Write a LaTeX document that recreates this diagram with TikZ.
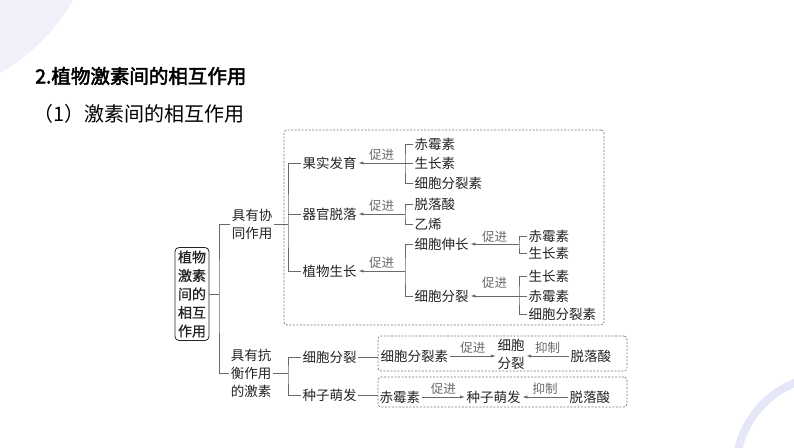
\documentclass[tikz,border=0pt]{standalone}
\usepackage{fontspec}
\setmainfont{Noto Sans CJK SC}
\newfontfamily\headfont[FakeBold=2.5]{Noto Sans CJK SC}
\newfontfamily\rootfont[FakeBold=0.8]{Noto Sans CJK SC}
\usetikzlibrary{arrows.meta}
\definecolor{haze}{RGB}{240,240,251}
\definecolor{ringblue}{RGB}{229,230,248}
\definecolor{wire}{RGB}{105,105,105}
\definecolor{ink}{RGB}{35,35,35}
\definecolor{dashgray}{RGB}{120,120,120}

\tikzset{
  txt/.style={inner sep=1.5pt, text=ink, font=\fontsize{13.5}{18}\selectfont},
  item/.style={txt, anchor=west},
  lbl/.style={inner sep=0pt, text=wire, font=\fontsize{12.5}{14}\selectfont},
  brk/.style={draw=wire, line width=0.7pt},
  arr/.style={brk, -{Latex[length=5pt,width=3.2pt]}},
  dbox/.style={draw=dashgray, dash pattern=on 2pt off 1.5pt, rounded corners=3pt, line width=0.7pt, inner sep=0pt},
  rootbox/.style={draw=ink, rounded corners=4pt, line width=0.8pt, inner sep=3pt, align=center, text=ink, font=\rootfont\fontsize{14}{18.5}\selectfont},
}

\begin{document}
\begin{tikzpicture}[x=1pt,y=-1pt]
  % Frame & background decoration
  \useasboundingbox (0,0) rectangle (794,447);
  \fill[haze] (-100,-100) circle (200);
  \draw[ringblue, line width=8pt] (830,470) circle (94);
  % Headings
  \node[anchor=west, inner sep=0pt, text=black, font=\headfont\fontsize{19.5}{22}\selectfont] (title) at (35,76) {2.植物激素间的相互作用};
  \node[anchor=west, inner sep=0pt, text=black, font=\fontsize{20}{22}\selectfont] (sub) at (33,114) {（1）激素间的相互作用};
  % Dashed frames
  \node[dbox, minimum width=320, minimum height=195] (synbox) at (444,227.5) {};
  \node[dbox, minimum width=249, minimum height=35] (cdbox) at (502.5,353.5) {};
  \node[dbox, minimum width=249, minimum height=30] (sgbox) at (502.5,392) {};
  % Root
  \node[rootbox] (root) at (192,294) {植物\\激素\\间的\\相互\\作用};
  \coordinate (trunk) at (219,294);
  \node[txt, align=center] (syn) at (252,224) {具有协\\同作用};
  \node[txt, align=center] (anti) at (251,373) {具有抗\\衡作用\\的激素};
  \draw[brk] (root.east) -- (trunk);
  \draw[brk] (syn.west) -| (trunk) |- (anti.west);
  % Synergy branch
  \coordinate (sb) at (288,224);
  \node[item] (fruit) at (301,163) {果实发育};
  \node[item] (shed) at (301,214) {器官脱落};
  \node[item] (grow) at (301,271) {植物生长};
  \draw[brk] (syn.east) -- (sb);
  \draw[brk] (fruit.west) -| (sb) |- (grow.west);
  \draw[brk] (shed.west) -- (shed.west -| sb);
  % fruit
  \coordinate (fb) at (405,163);
  \node[item] (f1) at (413,144) {赤霉素};
  \node[item] (f2) at (413,163) {生长素};
  \node[item] (f3) at (413,183) {细胞分裂素};
  \draw[brk] (f1.west) -| (fb) |- (f3.west);
  \draw[brk] (f2.west) -- (fb);
  \draw[arr] (fb) -- (fruit.east) node[lbl, midway, above=2pt] {促进};
  % shedding
  \coordinate (hb) at (405,214);
  \node[item] (h1) at (413,204) {脱落酸};
  \node[item] (h2) at (413,224) {乙烯};
  \draw[brk] (h1.west) -| (hb) |- (h2.west);
  \draw[arr] (hb) -- (shed.east) node[lbl, midway, above=2pt] {促进};
  % growth
  \coordinate (gb) at (405,271);
  \node[item] (g1) at (413,244) {细胞伸长};
  \node[item] (g2) at (413,296) {细胞分裂};
  \draw[brk] (g1.west) -| (gb) |- (g2.west);
  \draw[arr] (gb) -- (grow.east) node[lbl, midway, above=2pt] {促进};
  % elongation
  \coordinate (eb) at (519,244);
  \node[item] (e1) at (527,236) {赤霉素};
  \node[item] (e2) at (527,253) {生长素};
  \draw[brk] (e1.west) -| (eb) |- (e2.west);
  \draw[arr] (eb) -- (g1.east) node[lbl, midway, above=1pt] {促进};
  % division
  \coordinate (db) at (519,296);
  \node[item] (d1) at (527,276) {生长素};
  \node[item] (d2) at (527,296) {赤霉素};
  \node[item] (d3) at (527,314) {细胞分裂素};
  \draw[brk] (d1.west) -| (db) |- (d3.west);
  \draw[brk] (d2.west) -- (db);
  \draw[arr] (db) -- (g2.east) node[lbl, midway, above=7pt] {促进};
  % Antagonism branch
  \coordinate (ab) at (288,373);
  \node[item] (c1) at (301,357) {细胞分裂};
  \node[item] (c2) at (301,395) {种子萌发};
  \draw[brk] (anti.east) -- (ab);
  \draw[brk] (c1.west) -| (ab) |- (c2.west);
  \draw[brk] (c1.east) -- (c1.east -| cdbox.west);
  \draw[brk] (c2.east) -- (c2.east -| sgbox.west);
  % cell division box
  \node[item] (k1) at (379,356) {细胞分裂素};
  \node[txt, align=center] (k2) at (511,354) {细胞\\分裂};
  \node[item] (k3) at (569,356) {脱落酸};
  \draw[arr] (k1.east) -- (k1.east -| k2.west) node[lbl, midway, above=2pt] {促进};
  \draw[arr] (k3.west) -- (k3.west -| k2.east) node[lbl, midway, above=2pt] {抑制};
  % germination box
  \node[item] (m1) at (378,397) {赤霉素};
  \node[item] (m2) at (465,397) {种子萌发};
  \node[item] (m3) at (568,397) {脱落酸};
  \draw[arr] (m1.east) -- (m2.west) node[lbl, midway, above=2pt] {促进};
  \draw[arr] (m3.west) -- (m2.east) node[lbl, midway, above=2pt] {抑制};
\end{tikzpicture}
\end{document}
